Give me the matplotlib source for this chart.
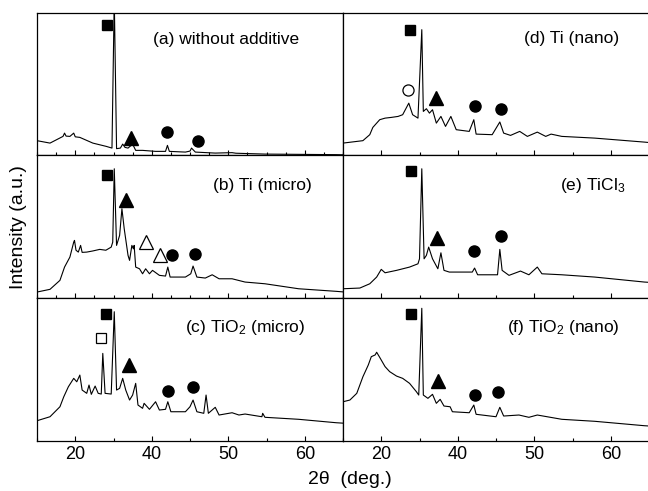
import numpy as np
import matplotlib
matplotlib.use('Agg')
from matplotlib import pyplot as plt
from matplotlib.ticker import MultipleLocator, FixedLocator, FixedFormatter

plt.rcParams['font.family'] = ['Liberation Sans', 'DejaVu Sans']
plt.rcParams['mathtext.default'] = 'regular'

#%% Data (2theta, intensity a.u.)
# (a) without additive
a_x = [25.0, 26.7, 28.4, 28.6, 28.8, 29.3, 29.8, 30.0, 30.6, 32.3, 34.05, 34.8, 35.1, 35.4, 35.9,
       36.2, 36.5, 36.9, 37.5, 37.9, 38.8, 40.5, 41.8, 42.05, 42.3, 44.4, 45.0, 45.2, 45.7, 48.3,
       50.5, 51.0, 54.8, 64.1, 65.0]
a_y = [10.3, 8.6, 13.3, 15.6, 13.5, 13.3, 15.6, 13.0, 12.6, 8.6, 6.3, 5.1, 110, 4.7, 5.1,
       7.9, 5.6, 5.1, 7.9, 3.5, 3.5, 2.8, 2.8, 7.0, 2.8, 2.3, 3.0, 5.1, 2.3, 1.6,
       1.9, 1.5, 0.9, 0.5, 0.4]

# (b) Ti (micro)
b_x = [25.0, 26.7, 28.0, 28.6, 29.3, 29.8, 29.9, 30.1, 30.4, 30.7, 30.9, 31.5, 32.3, 33.2, 34.0,
       34.7, 34.9, 35.1, 35.4, 35.8, 36.1, 36.4, 36.9, 37.1, 37.4, 37.6, 37.7, 37.9, 38.4, 38.8,
       39.2, 39.7, 40.1, 41.0, 41.8, 42.1, 42.4, 44.4, 45.1, 45.4, 45.9, 47.0, 47.9, 48.8, 50.5,
       52.2, 54.8, 59.2, 64.1, 65.0]
b_y = [4.2, 6.1, 12.4, 21.7, 28.7, 39.2, 40.4, 33.5, 32.2, 36.9, 32.0, 32.2, 33.0, 34.1, 33.5,
       35.7, 39.2, 90.6, 36.9, 43.9, 62.6, 48.6, 29.9, 26.4, 36.9, 34.5, 36.9, 21.7, 20.5, 17.0,
       20.5, 17.0, 19.4, 15.9, 15.4, 21.7, 14.7, 14.7, 17.0, 22.4, 14.7, 14.0, 16.3, 13.5, 13.5,
       11.2, 10.0, 6.5, 4.7, 4.3]

# (c) TiO2 (micro)
c_x = [25.0, 26.7, 28.0, 28.5, 29.1, 29.8, 30.2, 30.6, 30.9, 31.5, 31.8, 32.1, 32.6, 33.0, 33.4,
       33.6, 33.9, 34.7, 35.1, 35.4, 35.8, 36.2, 36.6, 37.1, 37.5, 37.9, 38.2, 38.8, 39.0, 39.7,
       40.5, 41.0, 41.8, 42.1, 42.5, 44.4, 45.0, 45.4, 45.9, 46.8, 47.1, 47.4, 48.3, 48.8, 50.5,
       51.4, 52.2, 54.4, 54.5, 54.8, 59.2, 64.1, 65.0]
c_y = [14.0, 16.8, 23.8, 30.8, 37.8, 43.7, 41.3, 46.0, 35.5, 33.2, 39.0, 32.5, 38.3, 33.2, 32.7,
       61.2, 33.2, 32.7, 90.4, 35.5, 36.7, 43.7, 35.5, 28.5, 32.0, 40.2, 25.0, 22.7, 26.2, 22.0,
       27.3, 21.5, 22.0, 27.3, 20.3, 20.3, 23.8, 28.5, 20.3, 19.2, 32.0, 19.2, 23.4, 18.0, 19.6,
       18.0, 18.7, 16.8, 19.2, 16.4, 15.0, 12.6, 12.3]

# (d) Ti (nano)
d_x = [25.0, 27.6, 28.5, 28.9, 29.8, 30.5, 31.3, 32.2, 32.8, 33.6, 34.1, 34.8, 35.3, 35.5, 35.9,
       36.3, 36.7, 37.2, 37.8, 38.4, 39.1, 39.8, 41.5, 42.1, 42.4, 44.5, 45.5, 46.0, 46.9, 48.1,
       49.1, 50.4, 51.5, 52.2, 53.6, 57.9, 64.4, 65.0]
d_y = [8.6, 10.3, 14.5, 19.6, 25.0, 26.1, 26.6, 27.3, 28.5, 36.6, 28.5, 26.1, 88.1, 30.8, 32.7,
       29.6, 32.0, 22.6, 27.3, 20.3, 27.3, 18.0, 16.8, 25.0, 14.9, 14.5, 23.4, 15.6, 14.0, 16.8,
       13.3, 16.3, 13.3, 14.9, 13.3, 12.1, 9.3, 9.0]

# (e) TiCl3
e_x = [25.0, 27.2, 28.5, 29.4, 30.0, 30.5, 32.0, 33.7, 34.8, 35.0, 35.3, 35.6, 35.9, 36.2, 36.7,
       37.4, 37.8, 38.2, 38.9, 41.9, 42.2, 42.6, 45.2, 45.5, 45.8, 46.7, 48.2, 49.3, 50.4, 51.0,
       53.6, 57.9, 64.4, 65.0]
e_y = [6.5, 7.0, 10.0, 14.7, 20.1, 17.7, 19.4, 21.7, 24.0, 27.5, 90.6, 27.5, 29.9, 35.7, 27.5,
       20.5, 31.7, 19.4, 18.2, 18.2, 21.0, 16.3, 16.3, 34.1, 19.4, 15.9, 18.9, 16.3, 21.7, 17.0,
       16.3, 14.7, 11.2, 11.0]

# (f) TiO2 (nano)
f_x = [25.0, 25.9, 26.8, 27.6, 28.3, 28.7, 29.2, 29.4, 29.8, 30.5, 31.1, 32.0, 32.8, 33.7, 34.6,
       34.9, 35.3, 35.5, 36.1, 36.7, 37.2, 37.7, 38.2, 39.0, 39.3, 41.5, 42.1, 42.4, 45.0, 45.5,
       46.0, 48.0, 49.3, 50.4, 53.6, 57.9, 64.4, 65.0]
f_y = [27.3, 28.5, 33.2, 44.8, 53.0, 58.9, 60.1, 62.0, 58.4, 51.9, 48.4, 45.3, 43.7, 40.2, 34.3,
       32.0, 92.8, 32.0, 29.7, 32.5, 26.2, 29.0, 24.3, 23.8, 20.3, 19.6, 25.0, 18.5, 16.8, 23.4,
       17.3, 18.0, 16.4, 18.0, 15.0, 13.6, 10.5, 10.3]

# Phase markers: (2theta, height) per panel
sq_x = [34.1, 34.1, 34.0, 33.8, 33.9, 33.9]
sq_y = [91.1, 86.4, 88.8, 87.6, 89.0, 88.8]
tri_x = [37.3, 36.6, 37.0, 37.2, 37.3, 37.4]
tri_y = [12.1, 68.5, 53.0, 40.2, 42.0, 42.0]
circ1_x = [42.0, 42.6, 42.1, 42.2, 42.1, 42.2]
circ1_y = [16.1, 30.3, 35.0, 34.3, 32.9, 32.0]
circ2_x = [46.0, 45.7, 45.4, 45.6, 45.7, 45.3]
circ2_y = [10.3, 31.0, 37.4, 32.7, 43.4, 33.9]
open_tri_x = [39.2, 41.1]   # panel (b)
open_tri_y = [39.2, 29.9]
open_sq_x, open_sq_y = [33.4], [72.2]      # panel (c)
open_circ_x, open_circ_y = [33.5], [45.5]  # panel (d)

labels = ['(a) without additive', '(b) Ti (micro)', '(c) TiO$_2$ (micro)',
          '(d) Ti (nano)', '(e) TiCl$_3$', '(f) TiO$_2$ (nano)']
label_pos = [(0.379, 0.81), (0.574, 0.79), (0.484, 0.79),
             (0.593, 0.82), (0.709, 0.79), (0.535, 0.79)]

xs = [a_x, b_x, c_x, d_x, e_x, f_x]
ys = [a_y, b_y, c_y, d_y, e_y, f_y]

tick_pos = [30, 40, 50, 60]
tick_lab = ['20', '40', '50', '60']

#%% Figure
fig = plt.figure(figsize=(6.48, 4.91), dpi=100)
left = [37/648, 343/648]
w = 306/648
top = 1 - 12.7/491
h = (440.7 - 12.7)/491/3

for i in range(6):
    col, row = i // 3, i % 3
    ax = fig.add_axes([left[col], top - (row+1)*h, w, h])
    ax.plot(xs[i], ys[i], color='black', lw=0.8)
    ax.plot(sq_x[i], sq_y[i], 's', color='black', ms=7.5)
    ax.plot(tri_x[i], tri_y[i], '^', color='black', ms=10)
    ax.plot(circ1_x[i], circ1_y[i], 'o', color='black', ms=8)
    ax.plot(circ2_x[i], circ2_y[i], 'o', color='black', ms=8)
    if i == 1:
        ax.plot(open_tri_x, open_tri_y, '^', mfc='white', mec='black', ms=10, mew=0.9)
    if i == 2:
        ax.plot(open_sq_x, open_sq_y, 's', mfc='white', mec='black', ms=7.5, mew=0.9)
    if i == 3:
        ax.plot(open_circ_x, open_circ_y, 'o', mfc='white', mec='black', ms=8, mew=0.9)
    ax.text(label_pos[i][0], label_pos[i][1], labels[i], transform=ax.transAxes,
            fontsize=12.5, ha='left', va='center')

    ax.set_xlim(25, 65)
    ax.set_ylim(0, 100)
    ax.set_yticks([])
    ax.xaxis.set_major_locator(FixedLocator(tick_pos))
    if col == 0 and row < 2:
        ax.xaxis.set_minor_locator(MultipleLocator(2.5))
    else:
        ax.xaxis.set_minor_locator(MultipleLocator(5))
    ax.tick_params(axis='x', which='both', direction='in', top=False, labelsize=13)
    ax.tick_params(axis='x', which='major', length=3.5, width=0.8)
    ax.tick_params(axis='x', which='minor', length=2.5, width=0.8)
    if row == 2:
        ax.xaxis.set_major_formatter(FixedFormatter(tick_lab))
    else:
        ax.set_xticklabels([])
    for s in ax.spines.values():
        s.set_linewidth(0.9)

fig.text(0.028, (top - 1.5*h), 'Intensity (a.u.)', rotation=90, fontsize=14,
         ha='center', va='center')
fig.text(350/648, 1 - 480/491, '2\u03b8  (deg.)', fontsize=14, ha='center', va='center')

plt.savefig('out.png', dpi=100)
